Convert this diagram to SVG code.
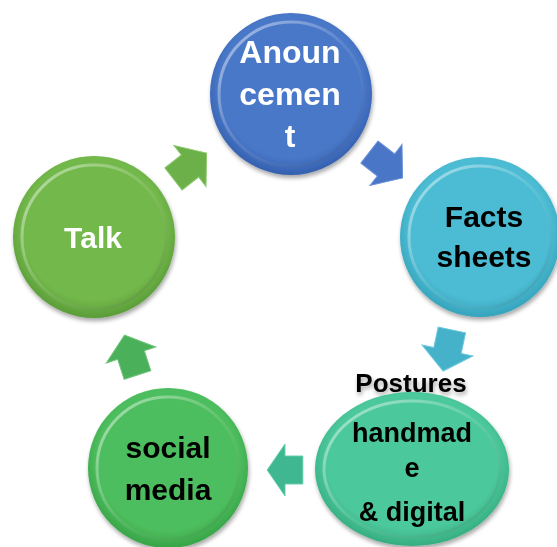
<svg xmlns="http://www.w3.org/2000/svg" width="557" height="547" viewBox="0 0 557 547">
<style>
  .lbl { font-family: "Liberation Sans", Arial, sans-serif; font-weight: bold; text-anchor: middle; }
  .w { fill: #ffffff; }
  .b { fill: #000000; }
  .arrow { stroke-width: 1; stroke-linejoin: miter; }
  .rim { fill: none; stroke-width: 3; }
</style>
<defs>
  <filter id="sh" x="-20%" y="-20%" width="140%" height="140%">
    <feGaussianBlur in="SourceAlpha" stdDeviation="2"/>
    <feOffset dx="1" dy="3" result="o"/>
    <feComponentTransfer><feFuncA type="linear" slope="0.35"/></feComponentTransfer>
    <feMerge><feMergeNode/><feMergeNode in="SourceGraphic"/></feMerge>
  </filter>
  <radialGradient id="gBlue" cx="50%" cy="45%" r="55%">
    <stop offset="0.8" stop-color="#4a78c9"/>
    <stop offset="1" stop-color="#3460ae"/>
  </radialGradient>
  <radialGradient id="gCyan" cx="50%" cy="45%" r="55%">
    <stop offset="0.8" stop-color="#4cbcd3"/>
    <stop offset="1" stop-color="#35a3bb"/>
  </radialGradient>
  <radialGradient id="gTeal" cx="50%" cy="45%" r="55%">
    <stop offset="0.8" stop-color="#4cc89c"/>
    <stop offset="1" stop-color="#35ad80"/>
  </radialGradient>
  <radialGradient id="gGreen" cx="50%" cy="45%" r="55%">
    <stop offset="0.8" stop-color="#4ebe5e"/>
    <stop offset="1" stop-color="#37a447"/>
  </radialGradient>
  <radialGradient id="gLime" cx="50%" cy="45%" r="55%">
    <stop offset="0.8" stop-color="#73b84b"/>
    <stop offset="1" stop-color="#5a9c38"/>
  </radialGradient>
  <linearGradient id="rim" x1="0" y1="0" x2="1" y2="1">
    <stop offset="0" stop-color="#ffffff" stop-opacity="0.55"/>
    <stop offset="0.5" stop-color="#ffffff" stop-opacity="0.1"/>
    <stop offset="1" stop-color="#000000" stop-opacity="0.1"/>
  </linearGradient>
  <polygon id="arr" points="-21,-14 0,-14 0,-26 21,0 0,26 0,14 -21,14"/>
</defs>

<g id="connectors">
  <use href="#arr" class="arrow" transform="translate(190,166) rotate(-38)" fill="#6cb04a" stroke="#8cc86c"/>
  <use href="#arr" class="arrow" transform="translate(386,165) rotate(38)" fill="#4a76c8" stroke="#6a92d8"/>
  <use href="#arr" class="arrow" transform="translate(447.5,350.5) rotate(102)" fill="#45b2ca" stroke="#6cc8dc"/>
  <use href="#arr" class="arrow" transform="translate(285,470) rotate(180) scale(0.85,1)" fill="#3fb892" stroke="#66ccaa"/>
  <use href="#arr" class="arrow" transform="translate(131,355) rotate(-108)" fill="#4bb05a" stroke="#70c47c"/>
</g>

<g id="node-anouncement" filter="url(#sh)">
  <circle cx="291" cy="94" r="81" fill="url(#gBlue)"/>
  <circle cx="291" cy="94" r="72" class="rim" stroke="url(#rim)"/>
  <text class="lbl w" font-size="32" x="290" y="63">Anoun</text>
  <text class="lbl w" font-size="32" x="290" y="105">cemen</text>
  <text class="lbl w" font-size="32" x="290" y="147">t</text>
</g>

<g id="node-facts" filter="url(#sh)">
  <circle cx="480" cy="237" r="80" fill="url(#gCyan)"/>
  <circle cx="480" cy="237" r="71" class="rim" stroke="url(#rim)"/>
  <text class="lbl b" font-size="30" x="484" y="227">Facts</text>
  <text class="lbl b" font-size="30" x="484" y="267">sheets</text>
</g>

<g id="node-postures" filter="url(#sh)">
  <ellipse cx="412" cy="469" rx="97" ry="77" fill="url(#gTeal)"/>
  <ellipse cx="412" cy="469" rx="88" ry="68" class="rim" stroke="url(#rim)"/>
  <text class="lbl b" font-size="26" x="411" y="392">Postures</text>
  <text class="lbl b" font-size="27" x="412" y="442">handmad</text>
  <text class="lbl b" font-size="27" x="412" y="477">e</text>
  <text class="lbl b" font-size="27" x="412" y="521">&amp; digital</text>
</g>

<g id="node-social" filter="url(#sh)">
  <circle cx="168" cy="468" r="80" fill="url(#gGreen)"/>
  <circle cx="168" cy="468" r="71" class="rim" stroke="url(#rim)"/>
  <text class="lbl b" font-size="30" x="168" y="458">social</text>
  <text class="lbl b" font-size="30" x="168" y="500">media</text>
</g>

<g id="node-talk" filter="url(#sh)">
  <circle cx="94" cy="237" r="81" fill="url(#gLime)"/>
  <circle cx="94" cy="237" r="72" class="rim" stroke="url(#rim)"/>
  <text class="lbl w" font-size="30" x="93" y="248">Talk</text>
</g>
</svg>
